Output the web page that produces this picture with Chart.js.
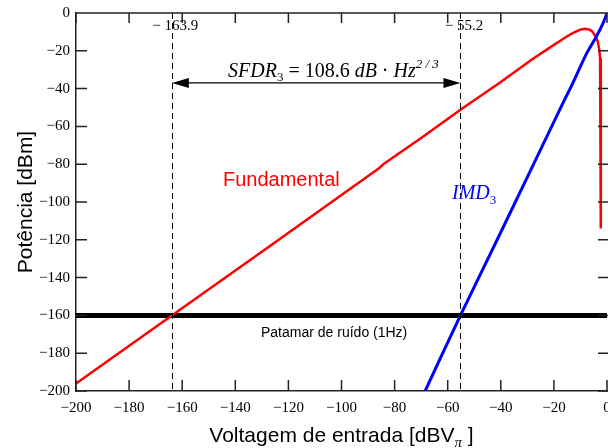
<!DOCTYPE html>
<html>
<head>
<meta charset="utf-8">
<script src="https://cdn.jsdelivr.net/npm/chart.js@4/dist/chart.umd.min.js"></script>
<style>body{margin:0;background:#fff}</style>
</head>
<body>
<canvas id="c" width="608" height="448"></canvas>
<script>
// fundamental output (red)
var fundX = [-200, -163.9, -130, -100, -86, -84, -70, -55.2, -40, -28.7, -21, -16, -13.6, -11.5, -9.8, -8.2, -6.7, -5.6, -4.8, -4.1, -3.5, -2.9, -2.6, -2.4, -2.3, -2.3]
var fundY = [-196, -160, -126.3, -96.3, -82.3, -79.8, -66.1, -51.2, -36.5, -25, -17.8, -13.2, -11.2, -9.7, -8.7, -8.3, -8.7, -9.7, -11.3, -13, -15, -19.4, -24, -30, -40, -114]
// third order intermod (blue)
var imdX = [-68.5, -55.2, -40, -16.2, -13, -7.9, -4.2, -1.6, 0]
var imdY = [-200, -160, -116, -46.5, -37.5, -22, -13, -5.8, 0]
// noise floor
var floorX = [-200, 0]
var floorY = [-160, -160]

var xTicks = [-200, -180, -160, -140, -120, -100, -80, -60, -40, -20, 0]
var yTicks = [0, -20, -40, -60, -80, -100, -120, -140, -160, -180, -200]
var markX = [-163.9, -55.2]
var markLabels = ['\u2212 163.9', '\u2212 55.2']
var arrowY = -37

var serif = '"Liberation Serif", "Times New Roman", serif'
var sans = '"Liberation Sans", Arial, sans-serif'

function pts(xs, ys) { return xs.map((x, i) => ({x: x, y: ys[i]})) }
function minus(v) { return v < 0 ? '\u2212' + Math.abs(v) : '' + v }

function drawParts(ctx, parts, x, base) {
    parts.forEach(p => {
        ctx.font = p[0]
        ctx.fillText(p[1], x, base + p[2])
        x += ctx.measureText(p[1]).width
    })
}
function partsWidth(ctx, parts) {
    var w = 0
    parts.forEach(p => { ctx.font = p[0]; w += ctx.measureText(p[1]).width })
    return w
}

var decor = {
    id: 'decor',
    afterDraw(chart) {
        var ctx = chart.ctx, a = chart.chartArea, x = chart.scales.x, y = chart.scales.y
        ctx.save()
        // top frame + inward ticks
        ctx.strokeStyle = '#222'
        ctx.lineWidth = 1.5
        ctx.beginPath()
        ctx.moveTo(a.left, a.top); ctx.lineTo(a.right + 2, a.top)
        xTicks.forEach(v => {
            var px = x.getPixelForValue(v)
            ctx.moveTo(px, a.bottom); ctx.lineTo(px, a.bottom - 11)
            ctx.moveTo(px, a.top); ctx.lineTo(px, a.top + 10)
        })
        yTicks.forEach(v => {
            var py = y.getPixelForValue(v)
            ctx.moveTo(a.left, py); ctx.lineTo(a.left + 11, py)
            ctx.moveTo(a.right + 1, py); ctx.lineTo(a.right - 9, py)
        })
        ctx.stroke()

        // dashed markers
        ctx.strokeStyle = '#000'
        ctx.lineWidth = 1
        ctx.setLineDash([6, 4])
        markX.forEach(v => {
            var px = Math.round(x.getPixelForValue(v)) + 0.5
            ctx.beginPath(); ctx.moveTo(px, a.top); ctx.lineTo(px, a.bottom); ctx.stroke()
        })
        ctx.setLineDash([])
        ctx.fillStyle = '#000'
        ctx.font = '15px ' + serif
        ctx.textAlign = 'center'
        ctx.textBaseline = 'alphabetic'
        markX.forEach((v, i) => {
            ctx.fillText(markLabels[i], x.getPixelForValue(v) + 3.5, 30)
        })

        // double arrow
        var x1 = x.getPixelForValue(markX[0]), x2 = x.getPixelForValue(markX[1]), ay = y.getPixelForValue(arrowY)
        ctx.lineWidth = 1.3
        ctx.beginPath(); ctx.moveTo(x1 + 10, ay); ctx.lineTo(x2 - 10, ay); ctx.stroke()
        ctx.beginPath()
        ctx.moveTo(x1, ay); ctx.lineTo(x1 + 17, ay - 5); ctx.lineTo(x1 + 17, ay + 5); ctx.closePath()
        ctx.moveTo(x2, ay); ctx.lineTo(x2 - 17, ay - 5); ctx.lineTo(x2 - 17, ay + 5); ctx.closePath()
        ctx.fill()

        ctx.textAlign = 'left'
        drawParts(ctx, [
            ['italic 20px ' + serif, 'SFDR', 0],
            ['13px ' + serif, '3', 4],
            ['20px ' + serif, ' = 108.6 ', 0],
            ['italic 20px ' + serif, 'dB', 0],
            ['20px ' + serif, ' \u00b7 ', 0],
            ['italic 20px ' + serif, 'Hz', 0],
            ['italic 13px ' + serif, '2 / 3', -9]
        ], 228, 77)

        // series labels
        ctx.fillStyle = '#ff0000'
        ctx.font = '20px ' + sans
        ctx.fillText('Fundamental', 223, 186)
        ctx.fillStyle = '#0000ff'
        drawParts(ctx, [
            ['italic 20px ' + serif, 'IMD', 0],
            ['13px ' + serif, '3', 5]
        ], 452, 199)

        ctx.fillStyle = '#000'
        ctx.font = '14px ' + sans
        ctx.fillText('Patamar de ru\u00eddo (1Hz)', 261, 337)

        // axis titles
        var xt = [
            ['21px ' + sans, 'Voltagem de entrada [dBV', 0],
            ['italic 15px ' + serif, '\u03c0', 5],
            ['21px ' + sans, ' ]', 0]
        ]
        var w = partsWidth(ctx, xt)
        drawParts(ctx, xt, (a.left + a.right) / 2 - w / 2, 442)

        ctx.translate(32, (a.top + a.bottom) / 2)
        ctx.rotate(-Math.PI / 2)
        ctx.font = '21px ' + sans
        ctx.textAlign = 'center'
        ctx.fillText('Pot\u00eancia [dBm]', 0, 0)
        ctx.restore()
    }
}

new Chart(document.getElementById('c').getContext('2d'), {
    type: 'line',
    data: {
        datasets: [
            {data: pts(imdX, imdY), borderColor: '#0000ff', borderWidth: 3, pointRadius: 0, tension: 0.3, order: 0},
            {data: pts(fundX, fundY), borderColor: '#ff0000', borderWidth: 2.5, pointRadius: 0, tension: 0, order: 1},
            {data: pts(floorX, floorY), borderColor: '#000', borderWidth: 5, pointRadius: 0, order: 2}
        ]
    },
    options: {
        responsive: false,
        animation: false,
        devicePixelRatio: 1,
        layout: {padding: {top: 13, right: 1, left: 0, bottom: 0}},
        plugins: {legend: {display: false}, tooltip: {enabled: false}},
        scales: {
            x: {
                type: 'linear', min: -200, max: 0,
                grid: {display: true, drawOnChartArea: false, drawTicks: false},
                border: {color: '#222', width: 1.5},
                ticks: {stepSize: 20, color: '#000', font: {family: serif, size: 15}, padding: 8, maxRotation: 0, autoSkip: false, callback: v => minus(v)},
                afterFit: s => { s.height = 57; s.paddingLeft = 0; s.paddingRight = 0 }
            },
            y: {
                min: -200, max: 0,
                grid: {display: true, drawOnChartArea: false, drawTicks: false},
                border: {color: '#222', width: 1.5},
                ticks: {stepSize: 20, color: '#000', font: {family: serif, size: 15}, padding: 6, callback: v => minus(v)},
                afterFit: s => { s.width = 76; s.paddingTop = 0; s.paddingBottom = 0 }
            }
        }
    },
    plugins: [decor]
})
</script>
</body>
</html>
